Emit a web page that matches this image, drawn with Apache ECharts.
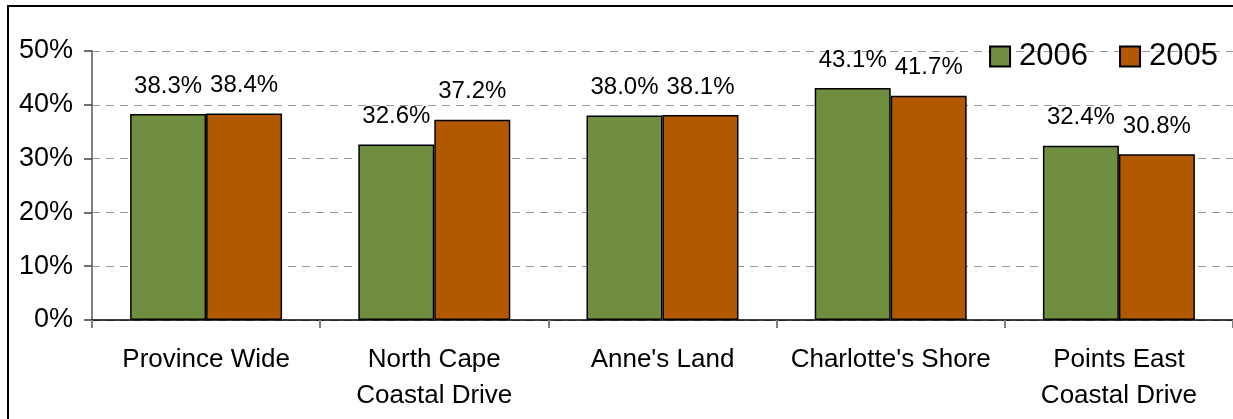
<!DOCTYPE html>
<html>
<head>
<meta charset="utf-8">
<script src="https://cdn.jsdelivr.net/npm/echarts@6/dist/echarts.min.js"></script>
<style>
  html, body { margin: 0; padding: 0; background: #fff; }
  #chart { width: 1233px; height: 419px; }
</style>
</head>
<body>
<div id="chart"></div>
<script>
// regions and share values (percent)
var regions = ['Province Wide', 'North Cape\nCoastal Drive', "Anne's Land", "Charlotte's Shore", 'Points East\nCoastal Drive'];
var share2006 = [38.3, 32.6, 38.0, 43.1, 32.4];
var share2005 = [38.4, 37.2, 38.1, 41.7, 30.8];
var yTicks = [0, 10, 20, 30, 40, 50];

var font = 'Liberation Sans, Arial, sans-serif';
var chart = echarts.init(document.getElementById('chart'));

function labelOpt() {
  return {
    show: true,
    position: 'top',
    distance: 16,
    color: '#000',
    fontFamily: font,
    fontSize: 24,
    formatter: function (p) { return p.value.toFixed(1) + '%'; }
  };
}

var option = {
  animation: false,
  graphic: [{
    type: 'rect',
    shape: { x: 8, y: 6, width: 1240, height: 430 },
    style: { fill: 'none', stroke: '#000', lineWidth: 2 },
    z: 100
  }],
  grid: { left: 92, right: 0, top: 51, bottom: 99 },
  legend: {
    right: 10,
    top: 36,
    itemWidth: 20,
    itemHeight: 20,
    itemGap: 31,
    icon: 'rect',
    textStyle: { fontFamily: font, fontSize: 31, color: '#000', padding: [0, 0, 0, 4] },
    data: ['2006', '2005']
  },
  xAxis: {
    type: 'category',
    data: regions,
    axisLine: { lineStyle: { color: '#000', width: 1.5 } },
    axisTick: { show: true, interval: 0, length: 8, lineStyle: { color: '#808080', width: 2 } },
    axisLabel: { interval: 0, hideOverlap: false, color: '#000', fontFamily: font, fontSize: 26, lineHeight: 36, margin: 22 }
  },
  yAxis: {
    type: 'value',
    min: yTicks[0],
    max: yTicks[yTicks.length - 1],
    interval: 10,
    axisLine: { show: true, lineStyle: { color: '#808080', width: 2 } },
    axisTick: { show: true, length: 8, lineStyle: { color: '#404040', width: 1.5 } },
    axisLabel: { color: '#000', fontFamily: font, fontSize: 27, margin: 19, formatter: '{value}%' },
    splitLine: { lineStyle: { color: '#999', type: [8, 6], width: 1 } }
  },
  series: [{
    name: '2006',
    type: 'bar',
    data: share2006,
    barWidth: '33.3%',
    barGap: '0%',
    itemStyle: { color: '#6f8e3f', borderColor: '#000', borderWidth: 1.5 },
    label: labelOpt()
  }, {
    name: '2005',
    type: 'bar',
    data: share2005,
    barWidth: '33.3%',
    itemStyle: { color: '#b25900', borderColor: '#000', borderWidth: 1.5 },
    label: labelOpt()
  }]
};

chart.setOption(option);
</script>
</body>
</html>
